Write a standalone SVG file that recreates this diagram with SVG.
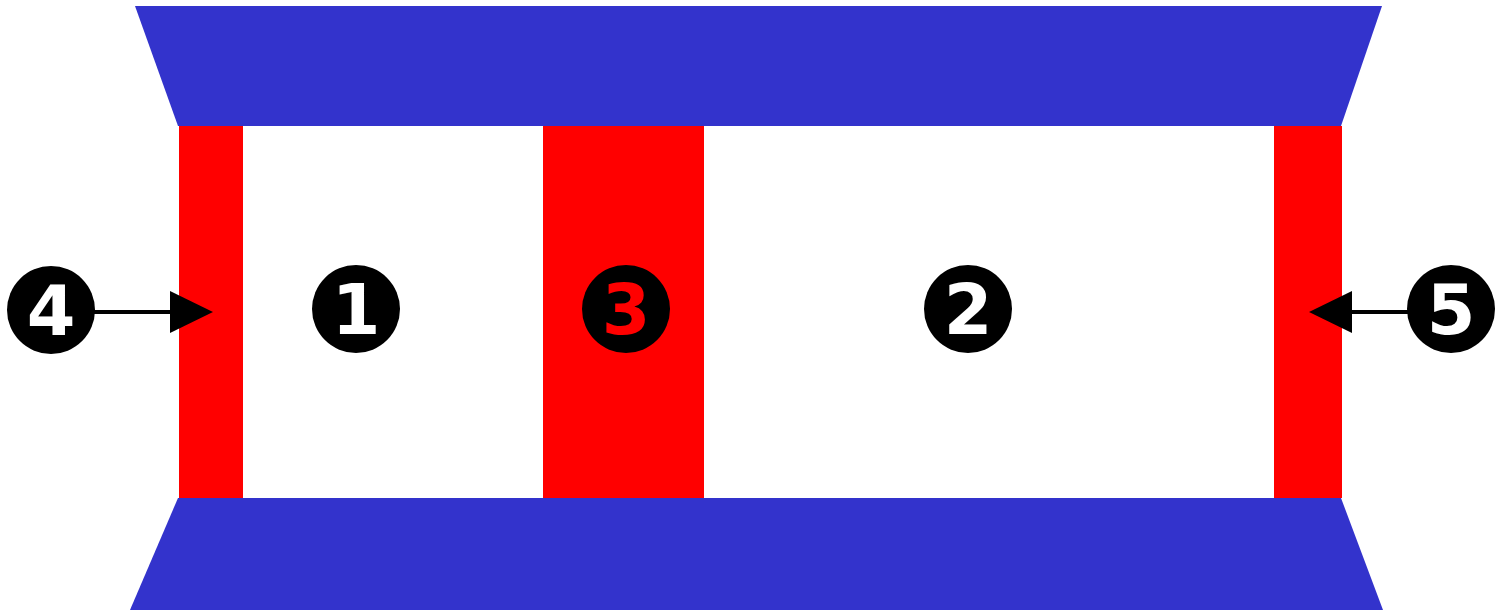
<svg xmlns="http://www.w3.org/2000/svg" width="1498" height="613" viewBox="0 0 1498 613">
  <style>
    .wall { fill: #3333cc; }
    .red { fill: #ff0000; }
    .badge circle { fill: #000000; }
    .badge text { font-family: "DejaVu Sans", "Liberation Sans", sans-serif; font-weight: bold; font-size: 70px; text-anchor: middle; fill: #ffffff; }
    .badge text.r { fill: #ff0000; }
    .conn line { stroke: #000000; stroke-width: 4; }
  </style>
  <defs>
    <marker id="ah" markerUnits="userSpaceOnUse" markerWidth="44" markerHeight="42" refX="1" refY="21" orient="auto" overflow="visible">
      <path d="M0,0 L43,21 L0,42 Z" fill="#000000"/>
    </marker>
  </defs>
  <rect width="1498" height="613" fill="#ffffff"/>
  <g id="top-wall"><polygon class="wall" points="135,6 1382,6 1341,126 178,126"/></g>
  <g id="bottom-wall"><polygon class="wall" points="178,498 1341,498 1383,610 130,610"/></g>
  <g id="bar-left"><rect class="red" x="179" y="126" width="64" height="372"/></g>
  <g id="bar-middle"><rect class="red" x="543" y="126" width="161" height="372"/></g>
  <g id="bar-right"><rect class="red" x="1274" y="126" width="68" height="372"/></g>
  <g id="connectors" class="conn">
    <line x1="92" y1="312" x2="171" y2="312" marker-end="url(#ah)"/>
    <line x1="1410" y1="312" x2="1351" y2="312" marker-end="url(#ah)"/>
  </g>
  <g id="n1" class="badge"><circle cx="356" cy="309" r="44"/><text x="356" y="334">1</text></g>
  <g id="n2" class="badge"><circle cx="968" cy="309" r="44"/><text x="968" y="334">2</text></g>
  <g id="n3" class="badge"><circle cx="626" cy="309" r="44"/><text class="r" x="626" y="334">3</text></g>
  <g id="n4" class="badge"><circle cx="51" cy="310" r="44"/><text x="51" y="335">4</text></g>
  <g id="n5" class="badge"><circle cx="1451" cy="309" r="44"/><text x="1451" y="334">5</text></g>
</svg>
